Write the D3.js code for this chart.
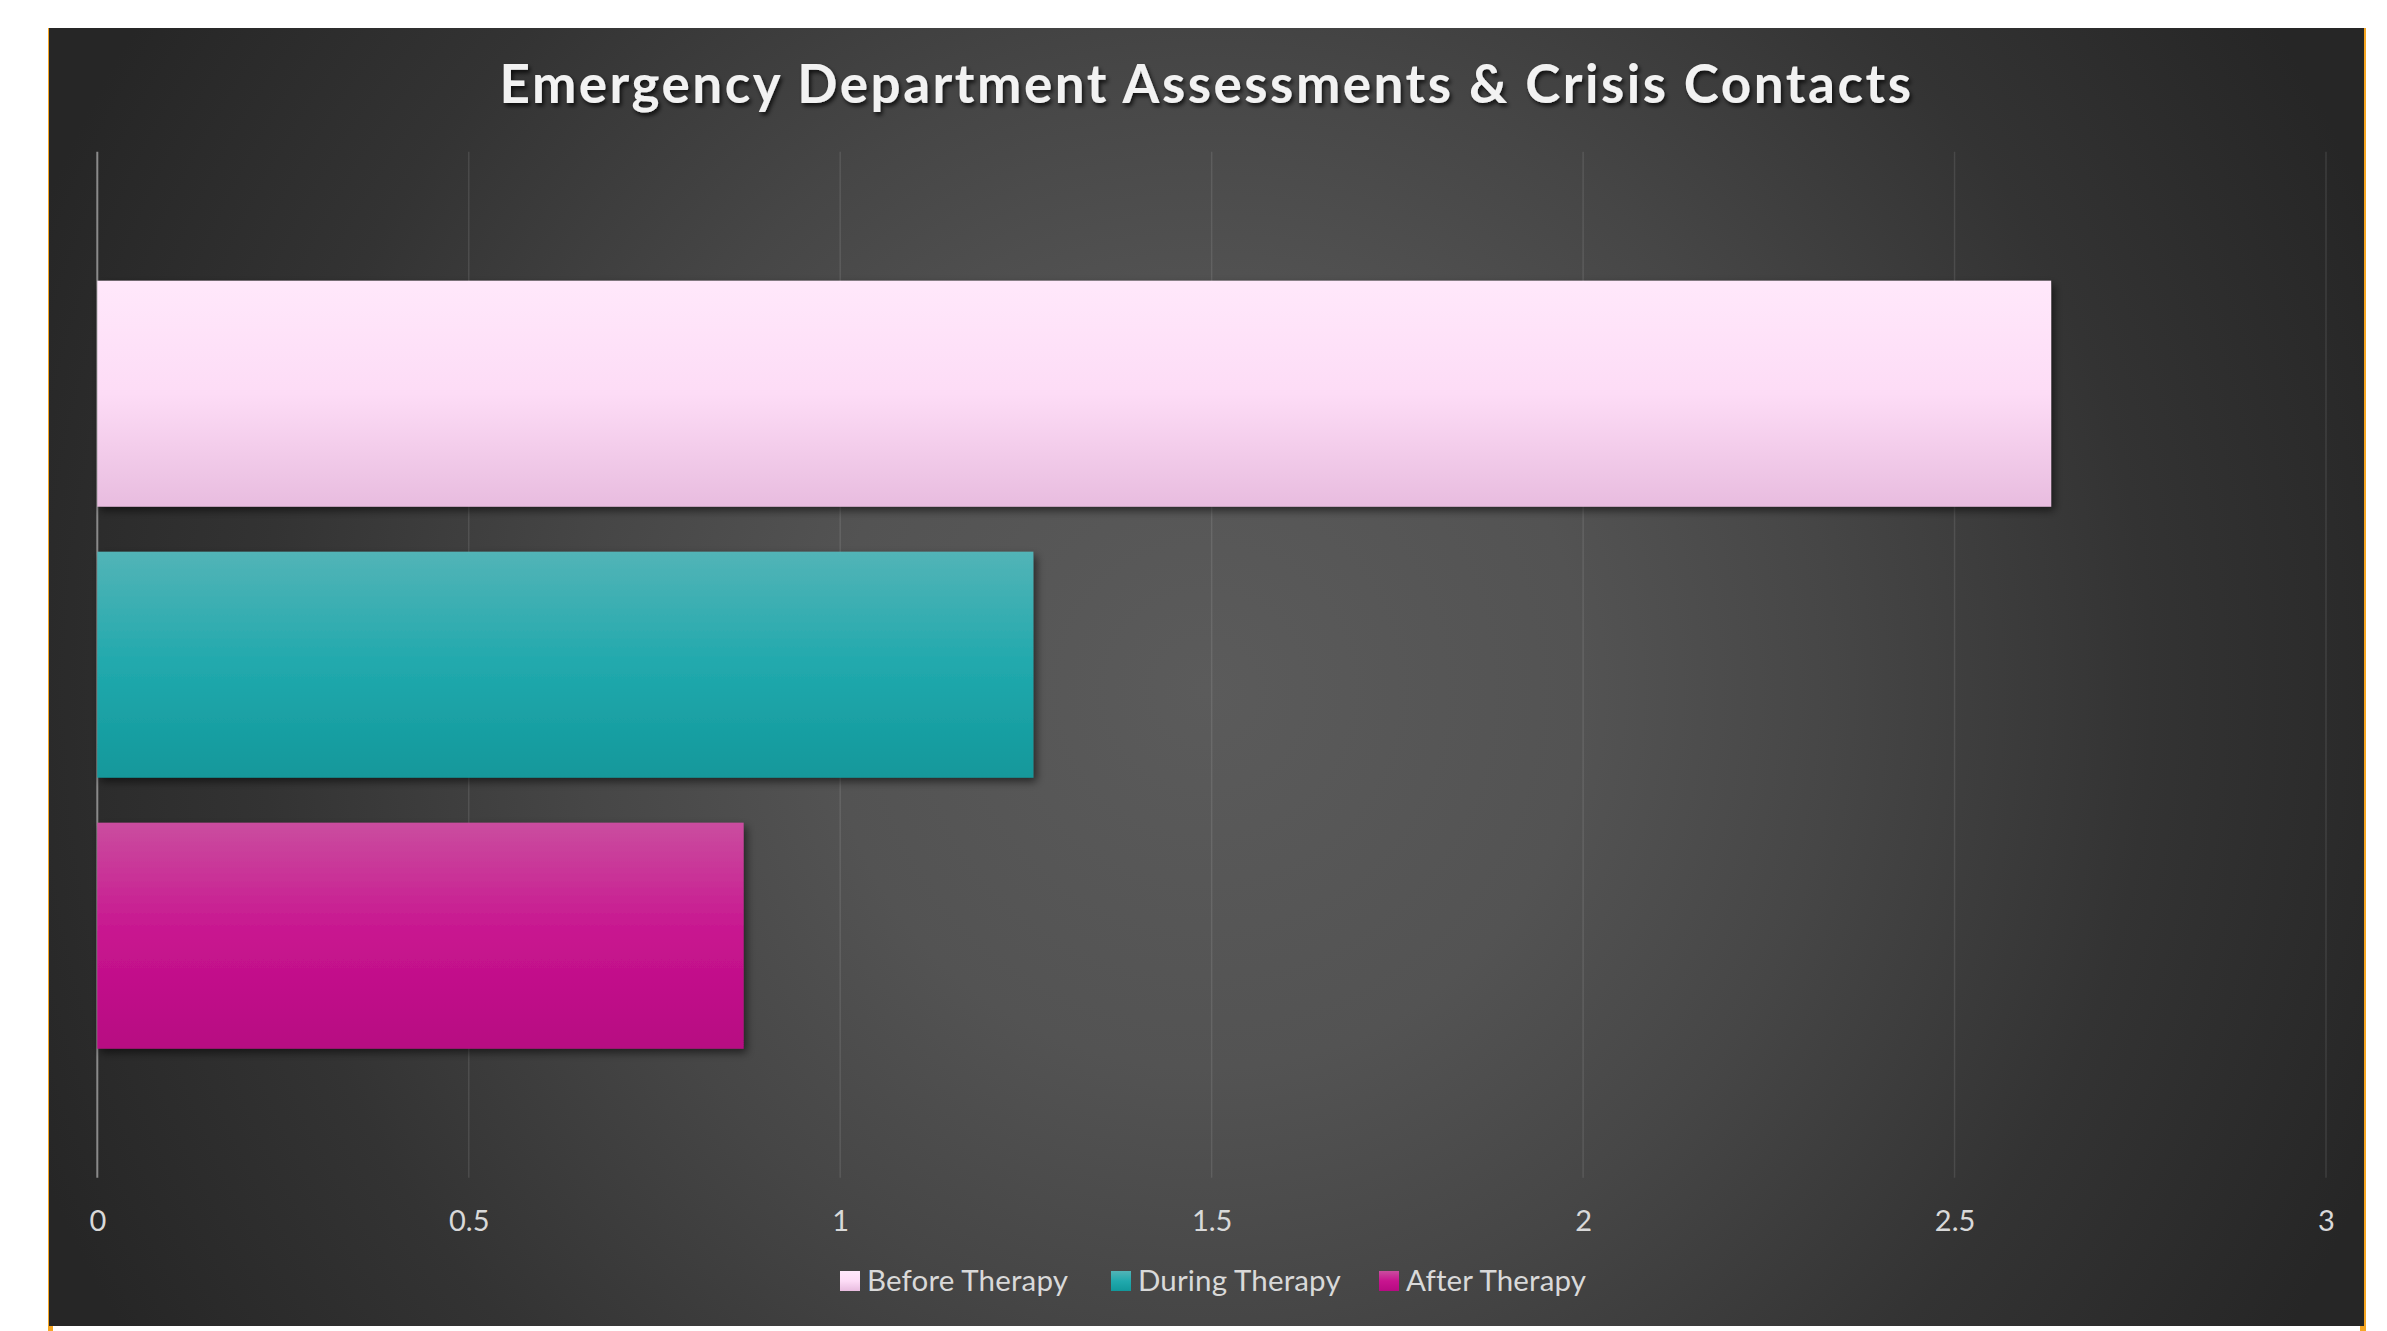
<!DOCTYPE html>
<html>
<head>
<meta charset="utf-8">
<script src="https://cdn.jsdelivr.net/npm/d3@7"></script>
<style>
  body { margin: 0; background: #ffffff; }
  svg { display: block; }
</style>
</head>
<body>
<div id="chart"></div>
<script>
var categories = ["Before Therapy", "During Therapy", "After Therapy"];
var values = [2.63, 1.26, 0.87];
var xTicks = [0, 0.5, 1, 1.5, 2, 2.5, 3];
var titleText = "Emergency Department Assessments & Crisis Contacts";

// gradient stops for each series (top -> middle -> bottom)
var barColors = [
  ["#ffe8fb", "#fddcf6", "#e8bcdf"],
  ["#52b4b7", "#21a9ad", "#12989b"],
  ["#ca4d9f", "#c8148f", "#b70a82"]
];

var W = 2387, H = 1331;
var box = {x: 49, y: 28, w: 2315, h: 1298};
var plot = {left: 97.3, right: 2326, top: 151.7, bottom: 1177.7};

var svg = d3.select("#chart").append("svg").attr("width", W).attr("height", H);
var defs = svg.append("defs");

var bg = defs.append("radialGradient").attr("id", "bg")
  .attr("gradientUnits", "userSpaceOnUse")
  .attr("cx", 1206).attr("cy", 690).attr("r", 1260);
bg.append("stop").attr("offset", 0).attr("stop-color", "#5b5b5b");
bg.append("stop").attr("offset", 0.3).attr("stop-color", "#535353");
bg.append("stop").attr("offset", 0.5).attr("stop-color", "#464646");
bg.append("stop").attr("offset", 0.75).attr("stop-color", "#333333");
bg.append("stop").attr("offset", 1).attr("stop-color", "#262626");

barColors.forEach(function(c, i){
  var g = defs.append("linearGradient").attr("id", "bar" + i)
    .attr("x1", 0).attr("y1", 0).attr("x2", 0).attr("y2", 1);
  g.append("stop").attr("offset", 0).attr("stop-color", c[0]);
  g.append("stop").attr("offset", 0.5).attr("stop-color", c[1]);
  g.append("stop").attr("offset", 1).attr("stop-color", c[2]);
});

var shadow = defs.append("filter").attr("id", "shadow")
  .attr("x", "-5%").attr("y", "-10%").attr("width", "115%").attr("height", "130%");
shadow.append("feDropShadow").attr("dx", 3).attr("dy", 4).attr("stdDeviation", 4)
  .attr("flood-color", "#000").attr("flood-opacity", 0.55);

var tshadow = defs.append("filter").attr("id", "tshadow")
  .attr("x", "-5%").attr("y", "-20%").attr("width", "110%").attr("height", "150%");
tshadow.append("feDropShadow").attr("dx", 2).attr("dy", 3).attr("stdDeviation", 2)
  .attr("flood-color", "#000").attr("flood-opacity", 0.75);

// orange edge lines, then the dark chart area
svg.append("rect").attr("x", box.x - 1).attr("y", box.y).attr("width", 5).attr("height", H - box.y).attr("fill", "#f5a623");
svg.append("rect").attr("x", box.x + box.w - 4).attr("y", box.y).attr("width", 6).attr("height", H - box.y).attr("fill", "#f5a623");
svg.append("rect").attr("x", box.x).attr("y", box.y).attr("width", box.w).attr("height", box.h).attr("fill", "url(#bg)");

var x = d3.scaleLinear().domain([0, 3]).range([plot.left, plot.right]);
var y = d3.scaleBand().domain(categories).range([plot.top, plot.bottom])
  .paddingInner(0.166).paddingOuter(0.476);

// gridlines
svg.append("g").selectAll("line").data(xTicks).join("line")
  .attr("x1", function(d){ return x(d); }).attr("x2", function(d){ return x(d); })
  .attr("y1", plot.top).attr("y2", plot.bottom)
  .attr("stroke", function(d){ return d == 0 ? "#8a8a8a" : "rgba(255,255,255,0.1)"; })
  .attr("stroke-width", function(d){ return d == 0 ? 2 : 1.5; });

// tick labels
var axis = d3.axisBottom(x).tickValues(xTicks).tickSize(0).tickPadding(0)
  .tickFormat(function(d){ return String(d); });
var ax = svg.append("g").attr("transform", "translate(0," + 1231 + ")").call(axis);
ax.select(".domain").remove();
ax.selectAll("text").attr("dy", 0).attr("fill", "#d9d9d9")
  .style("font-family", "Lato, 'Open Sans', sans-serif").style("font-size", "29px");

// bars
svg.append("g").selectAll("rect").data(values).join("rect")
  .attr("x", x(0))
  .attr("y", function(d, i){ return y(categories[i]); })
  .attr("width", function(d){ return x(d) - x(0); })
  .attr("height", y.bandwidth())
  .attr("fill", function(d, i){ return "url(#bar" + i + ")"; })
  .attr("filter", "url(#shadow)");

// title
svg.append("text").attr("x", box.x + box.w / 2).attr("y", 103)
  .attr("text-anchor", "middle").attr("fill", "#f2f2f2")
  .style("font-family", "Lato, 'Open Sans', sans-serif").style("font-weight", "bold")
  .style("font-size", "53px").style("letter-spacing", "2.5px")
  .attr("filter", "url(#tshadow)")
  .text(titleText);

// legend
var legendX = [840, 1111, 1379];
var legend = svg.append("g").selectAll("g").data(categories).join("g")
  .attr("transform", function(d, i){ return "translate(" + legendX[i] + "," + 1281 + ")"; });
legend.append("rect").attr("x", 0).attr("y", -10).attr("width", 20).attr("height", 20)
  .attr("fill", function(d, i){ return "url(#bar" + i + ")"; });
legend.append("text").attr("x", 27).attr("y", 10).attr("fill", "#d9d9d9")
  .style("font-family", "Lato, 'Open Sans', sans-serif").style("font-size", "29.5px")
  .style("letter-spacing", "0.15px")
  .text(function(d){ return d; });
</script>
</body>
</html>
